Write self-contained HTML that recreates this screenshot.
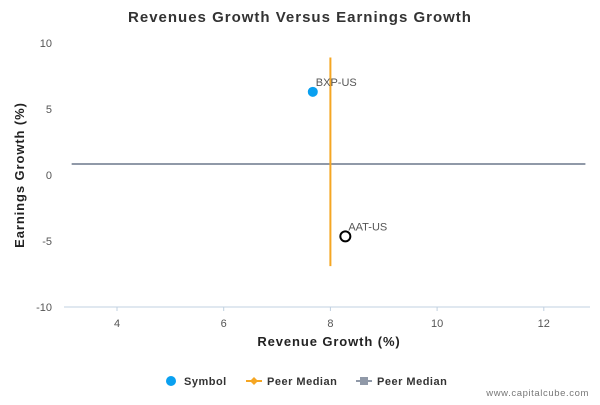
<!DOCTYPE html>
<html><head><meta charset="utf-8"><style>
body{margin:0;background:#fff;font-family:"Liberation Sans",sans-serif}
svg text{font-family:"Liberation Sans",sans-serif}
</style></head><body>
<svg width="600" height="400" viewBox="0 0 600 400" id="chart">
<text x="300" y="22" text-anchor="middle" font-size="15" font-weight="bold" fill="#333" letter-spacing="1">Revenues Growth Versus Earnings Growth</text>
<g id="grid"></g>
<line x1="64" y1="307" x2="590" y2="307" stroke="#c0d0e0"/>
<g id="marks"></g>
<text x="329" y="346" text-anchor="middle" font-size="13" font-weight="bold" fill="#222" letter-spacing="0.9">Revenue Growth (%)</text>
<text transform="translate(24,175) rotate(-90)" text-anchor="middle" font-size="13" font-weight="bold" fill="#222" letter-spacing="0.9">Earnings Growth (%)</text>
<g>
<g><circle cx="171" cy="381" r="5" fill="#0aa0f0"/><text x="184" y="385" font-size="11" font-weight="bold" fill="#333" letter-spacing="0.5">Symbol</text></g>
<g><line x1="246" y1="381" x2="262" y2="381" stroke="#f5a623" stroke-width="2"/><path d="M254 377 L258 381 L254 385 L250 381Z" fill="#f5a623"/><text x="267" y="385" font-size="11" font-weight="bold" fill="#333" letter-spacing="0.5">Peer Median</text></g>
<g><line x1="356" y1="381" x2="372" y2="381" stroke="#9099a8" stroke-width="2"/><rect x="360" y="377" width="8" height="8" fill="#9099a8"/><text x="377" y="385" font-size="11" font-weight="bold" fill="#333" letter-spacing="0.5">Peer Median</text></g>
</g>
<text x="589" y="396" text-anchor="end" font-size="9.5" fill="#777" letter-spacing="0.6">www.capitalcube.com</text>
</svg>
<script>
const xTicks=[4,6,8,10,12];
const yTicks=[10,5,0,-5,-10];
const symbols=["BXP-US","AAT-US"];
const revenueGrowth=[7.67,8.28];
const earningsGrowth=[6.3,-4.65];
const peerMedianRevenue=8.0;
const peerMedianEarnings=0.83;
const revenueMedianRange=[8.9,-6.9];
const earningsMedianRange=[3.15,12.78];
const sx=v=>117+(v-4)*53.35;
const sy=v=>175-v*13.2;
const NS="http://www.w3.org/2000/svg";
function mk(t,a,p){const e=document.createElementNS(NS,t);for(const k in a)e.setAttribute(k,a[k]);p.appendChild(e);return e;}
const grid=document.getElementById('grid'),marks=document.getElementById('marks');
xTicks.forEach(v=>{
 const l=mk('line',{x1:sx(v),x2:sx(v),y1:307,y2:311,stroke:'#c0d0e0'},grid);
 
 
 const t=mk('text',{x:sx(v),y:327,'text-anchor':'middle','font-size':11,fill:'#555'},grid);
 t.textContent=v;
 
 
});
yTicks.forEach(v=>{
 const t=mk('text',{x:52,y:sy(v)+4,'text-anchor':'end','font-size':11,fill:'#555'},grid);
 t.textContent=v;
 
 
});
const hl=mk('line',{x1:sx(earningsMedianRange[0]),x2:sx(earningsMedianRange[1]),y1:sy(peerMedianEarnings),y2:sy(peerMedianEarnings),stroke:'#9099a8','stroke-width':2},marks);


const vl=mk('line',{x1:sx(peerMedianRevenue),x2:sx(peerMedianRevenue),y1:sy(revenueMedianRange[0]),y2:sy(revenueMedianRange[1]),stroke:'#f5a623','stroke-width':2},marks);


symbols.forEach((s,i)=>{
 const first=i===0;
 const c=mk('circle',{cx:sx(revenueGrowth[i]),cy:sy(earningsGrowth[i]),r:5,fill:first?'#0aa0f0':'#fff',stroke:first?'none':'#000','stroke-width':2},marks);
 
 
 const t=mk('text',{x:sx(revenueGrowth[i])+3,y:sy(earningsGrowth[i])-6,'font-size':11,fill:'#555'},marks);
 t.textContent=s;
 
 
});
</script>
</body></html>
